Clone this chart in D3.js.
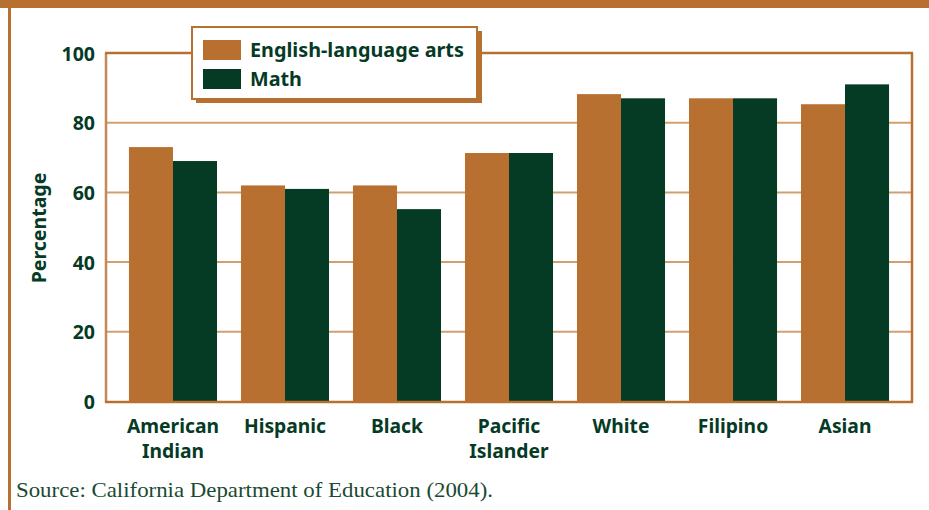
<!DOCTYPE html>
<html><head><meta charset="utf-8">
<script src="https://cdn.jsdelivr.net/npm/d3@7/dist/d3.min.js"></script>
<style>body{margin:0;background:#fff;}svg{display:block;}</style>
</head><body>
<svg id="c" width="929" height="510"></svg>
<script>
const categories = [["American","Indian"],["Hispanic"],["Black"],["Pacific","Islander"],["White"],["Filipino"],["Asian"]];
const elaValues = [73, 62, 62, 71.3, 88.2, 87, 85.3];
const mathValues = [69, 61, 55.2, 71.3, 87, 87, 91];
const seriesNames = ["English-language arts", "Math"];
const yTicks = [0, 20, 40, 60, 80, 100];

const ORANGE = "#b87030", GREEN = "#053a25", GRID = "#d2a070";
const svg = d3.select("#c");
const m = {l:106, r:912, t:53, b:401.5};

// frame
svg.append("rect").attr("x",0).attr("y",0).attr("width",929).attr("height",8).attr("fill",ORANGE);
svg.append("rect").attr("x",8).attr("y",0).attr("width",3).attr("height",510).attr("fill",ORANGE);

const keys = categories.map(d => d.join(" "));
const x = d3.scaleBand().domain(keys).range([m.l, m.r]).paddingInner(0.214).paddingOuter(0.205);
const xs = d3.scaleBand().domain(seriesNames).range([0, x.bandwidth()]);
const y = d3.scaleLinear().domain([0,100]).range([m.b, m.t]);

// gridlines
svg.append("g").selectAll("line").data(yTicks.filter(t => t>0 && t<100)).join("line")
  .attr("x1", m.l).attr("x2", m.r).attr("y1", d=>y(d)).attr("y2", d=>y(d))
  .attr("stroke", GRID).attr("stroke-width", 2);

// bars
const data = keys.map((k,i)=>({k, vals:[elaValues[i], mathValues[i]]}));
const g = svg.append("g").selectAll("g").data(data).join("g").attr("transform", d=>`translate(${x(d.k)},0)`);
g.selectAll("rect").data(d=>d.vals.map((v,j)=>({v, s:seriesNames[j]}))).join("rect")
  .attr("x", d=>xs(d.s)).attr("width", xs.bandwidth())
  .attr("y", d=>y(d.v)).attr("height", d=>y(0)-y(d.v))
  .attr("fill", d=>d.s===seriesNames[0]?ORANGE:GREEN);

// plot border
svg.append("line").attr("x1",m.l).attr("x2",m.l).attr("y1",m.t).attr("y2",m.b+1).attr("stroke","#c58858").attr("stroke-width",2.5);
svg.append("line").attr("x1",m.l-1).attr("x2",m.r+1).attr("y1",m.t).attr("y2",m.t).attr("stroke",ORANGE).attr("stroke-width",2.5);
svg.append("line").attr("x1",m.r).attr("x2",m.r).attr("y1",m.t).attr("y2",m.b+1).attr("stroke",ORANGE).attr("stroke-width",2.5);
svg.append("line").attr("x1",m.l-1).attr("x2",m.r+1).attr("y1",m.b+0.5).attr("y2",m.b+0.5).attr("stroke",ORANGE).attr("stroke-width",2.5);

// y axis
const yAxis = d3.axisLeft(y).tickValues(yTicks).tickSize(0).tickPadding(11);
const ya = svg.append("g").attr("transform",`translate(${m.l},0)`).call(yAxis);
ya.select(".domain").remove();
ya.selectAll("text").attr("font-family","'Noto Sans', sans-serif").attr("font-weight","bold")
  .attr("font-size","19.5px").attr("fill",GREEN).attr("dy","0.36em");

svg.append("text").attr("transform","translate(46,228) rotate(-90)").attr("text-anchor","middle")
  .attr("font-family","'Noto Sans', sans-serif").attr("font-weight","bold").attr("font-size","19.5px")
  .attr("fill",GREEN).text("Percentage");

// x axis labels
const xa = svg.append("g");
data.forEach((d,i)=>{
  const t = xa.append("text").attr("x", x(d.k)+x.bandwidth()/2).attr("y", 433)
    .attr("text-anchor","middle").attr("font-family","'Noto Sans', sans-serif")
    .attr("font-weight","bold").attr("font-size","19.3px").attr("fill",GREEN);
  categories[i].forEach((line,j)=>t.append("tspan").attr("x", x(d.k)+x.bandwidth()/2).attr("dy", j?24.5:0).text(line));
});

// legend
const lg = svg.append("g");
lg.append("rect").attr("x",196).attr("y",31).attr("width",286).attr("height",72).attr("fill",ORANGE);
lg.append("rect").attr("x",192).attr("y",27).attr("width",285).attr("height",72).attr("fill","#fff")
  .attr("stroke",ORANGE).attr("stroke-width",2);
seriesNames.forEach((s,i)=>{
  lg.append("rect").attr("x",203).attr("y",40+i*29).attr("width",38).attr("height",20).attr("fill",i?GREEN:ORANGE);
  lg.append("text").attr("x",250).attr("y",57+i*29).attr("font-family","'Noto Sans', sans-serif")
    .attr("font-weight","bold").attr("font-size","19.8px").attr("fill",GREEN).text(s);
});

// source
svg.append("text").attr("x",16).attr("y",497).attr("font-family","'Liberation Serif', serif")
  .attr("font-size","21px").attr("fill","#1a4a33").attr("textLength",477).attr("lengthAdjust","spacingAndGlyphs")
  .text("Source: California Department of Education (2004).");
</script>
</body></html>
